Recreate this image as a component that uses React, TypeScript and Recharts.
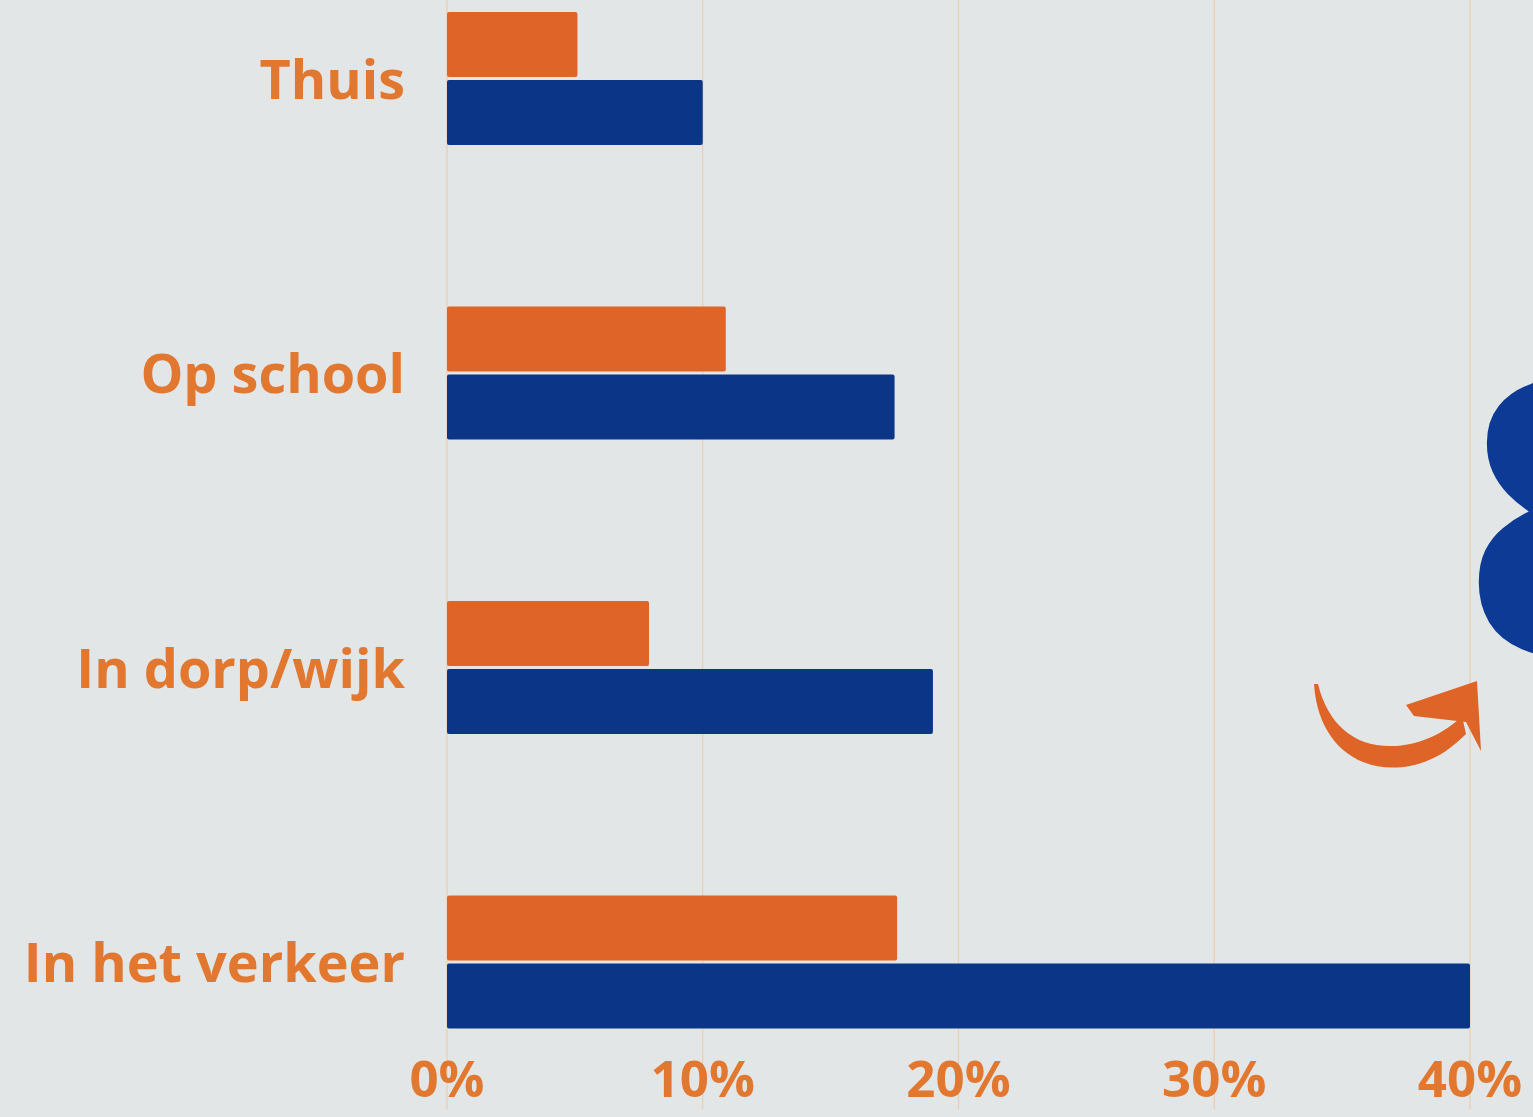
import React from "react";
import { Bar, BarChart, CartesianGrid, XAxis, YAxis } from "recharts";

// values (percent)
const categories = ["Thuis", "Op school", "In dorp/wijk", "In het verkeer"];
const orangeValues = [5.1, 10.9, 7.9, 17.6];
const blueValues = [10.0, 17.5, 19.0, 40.0];
const xTicks = [0, 10, 20, 30, 40];

const ORANGE = "#df6427";
const BLUE = "#0b3587";
const LABEL = "#e2782f";
const GRID = "#e9cdb2";
const BG = "#e3e6e7";
const FONT = "'Open Sans', 'DejaVu Sans', sans-serif";

const data = categories.map((name, i) => ({
  name,
  orange: orangeValues[i],
  blue: blueValues[i],
}));

function CategoryTick(props: any) {
  const { x, y, payload } = props;
  return (
    <text
      x={x}
      y={y}
      dy="0.38em"
      textAnchor="end"
      fill={LABEL}
      fontFamily={FONT}
      fontWeight={700}
      fontSize={54}
    >
      {payload.value}
    </text>
  );
}

function PercentTick(props: any) {
  const { x, y, payload } = props;
  return (
    <text
      x={x}
      y={y}
      dy={-20}
      textAnchor="middle"
      fill={LABEL}
      fontFamily={FONT}
      fontWeight={700}
      fontSize={51}
    >
      {payload.value}%
    </text>
  );
}

export default function App() {
  return (
    <div
      style={{
        position: "fixed",
        left: 0,
        top: 0,
        width: 1533,
        height: 1117,
        overflow: "hidden",
        background: BG,
      }}
    >
      {/* the photo crops the chart at the top, so the chart is shifted up */}
      <div style={{ position: "absolute", left: 0, top: -100 }}>
        <BarChart
          width={1533}
          height={1249}
          data={data}
          layout="vertical"
          margin={{ top: 31, right: 63, left: 0, bottom: 10 }}
          barSize={65}
          barGap={3}
        >
          <CartesianGrid
            horizontal={false}
            stroke={GRID}
            strokeWidth={1.2}
          />
          <XAxis
            type="number"
            domain={[0, 40]}
            ticks={xTicks}
            axisLine={false}
            tickLine={false}
            height={30}
            tick={<PercentTick />}
          />
          <YAxis
            type="category"
            dataKey="name"
            width={447}
            axisLine={false}
            tickLine={false}
            tickSize={0}
            tickMargin={42}
            tick={<CategoryTick />}
          />
          <Bar dataKey="orange" fill={ORANGE} radius={2} isAnimationActive={false} />
          <Bar dataKey="blue" fill={BLUE} radius={2} isAnimationActive={false} />
        </BarChart>
      </div>

      {/* decoration on the right edge of the photo */}
      <svg
        width={1533}
        height={1117}
        style={{ position: "absolute", left: 0, top: 0, pointerEvents: "none" }}
      >
        <text
          x={1466}
          y={655}
          fill="#0d3a94"
          fontFamily={FONT}
          fontWeight={800}
          fontSize={385}
        >
          8
        </text>
        <path
          d="M1314,684 C1318,745 1360,775 1410,766 C1435,761 1452,748 1466,734 L1462,716 C1445,733 1420,745 1395,746 C1355,748 1328,725 1318,684 Z"
          fill={ORANGE}
        />
        <path d="M1406,705 L1477,681 L1481,751 L1466,722 L1414,716 Z" fill={ORANGE} />
      </svg>
    </div>
  );
}
